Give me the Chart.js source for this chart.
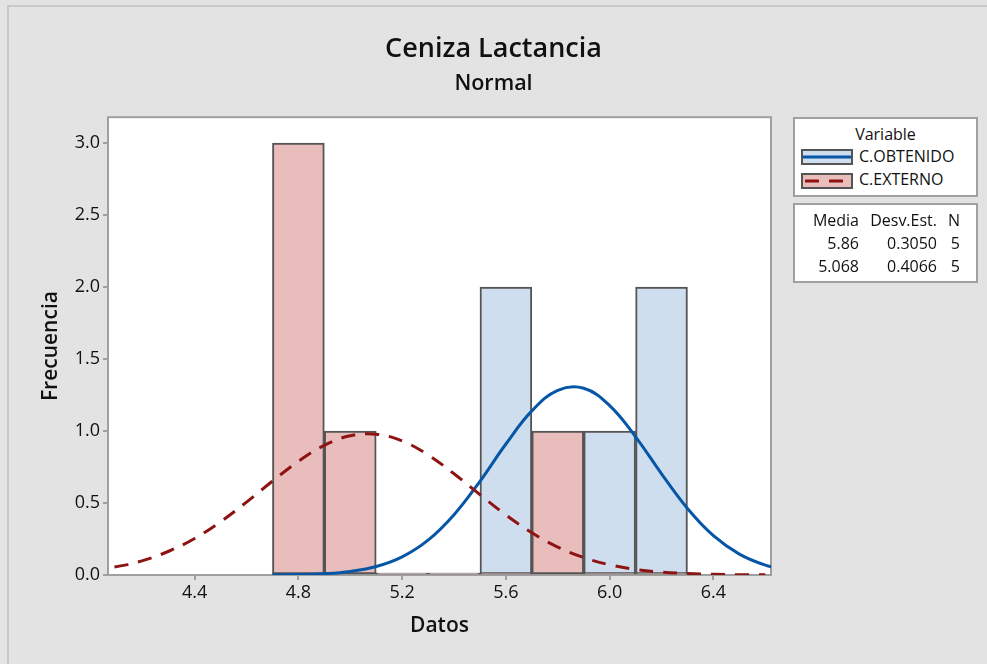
<!DOCTYPE html>
<html>
<head>
<meta charset="utf-8">
<script src="https://cdn.jsdelivr.net/npm/chart.js@4.4.1/dist/chart.umd.min.js"></script>
<style>
  body { margin: 0; background: #e3e3e3; font-family: "Open Sans", sans-serif; }
  #wrap { position: relative; width: 987px; height: 664px; background: #e3e3e3; overflow: hidden; }
  #frame { position: absolute; left: 7px; top: 5px; width: 1000px; height: 700px; border-left: 2px solid #c9c9c9; border-top: 2px solid #c9c9c9; }
  #box { position: absolute; left: 0; top: 0; width: 987px; height: 664px; }
  .lg { position: absolute; background: #fff; border: 2px solid #a0a0a0; box-sizing: border-box; color: #111; font-size: 16px; }
  .lg span { position: absolute; white-space: nowrap; line-height: 20px; }
  .sw { position: absolute; left: 6px; width: 52px; height: 16px; border: 2px solid #555; box-sizing: border-box; }
</style>
</head>
<body>
<div id="wrap">
  <div id="frame"></div>
  <div id="box"><canvas id="hist"></canvas></div>
  <div class="lg" id="legend" style="left:793px; top:117px; width:185px; height:80px;"></div>
  <div class="lg" id="stats" style="left:793px; top:203px; width:185px; height:80px;"></div>
</div>
<script>
// datos del histograma (centros de clase, ancho 0.2)
const binCenters = [4.8, 5.0, 5.2, 5.4, 5.6, 5.8, 6.0, 6.2];
const obtenidoCounts = [0, 0, 0, 0, 2, 0, 1, 2];
const externoCounts = [3, 1, 0, 0, 0, 1, 0, 0];

// curvas normales ajustadas (null = no se dibuja)
const curveX = [4.0, 4.1, 4.2, 4.3, 4.4, 4.5, 4.6, 4.7, 4.8, 4.9, 5.0, 5.1, 5.2, 5.3, 5.4,
  5.5, 5.6, 5.7, 5.8, 5.9, 6.0, 6.1, 6.2, 6.3, 6.4, 6.5, 6.6, 6.7];
const obtenidoCurve = [null, null, null, null, null, null, null, 0.001, 0.003, 0.009, 0.025, 0.059, 0.126, 0.242, 0.419,
  0.651, 0.910, 1.140, 1.283, 1.297, 1.177, 0.960, 0.703, 0.462, 0.273, 0.145, 0.069, 0.029];
const externoCurve = [0.031, 0.058, 0.100, 0.165, 0.254, 0.370, 0.506, 0.652, 0.790, 0.901, 0.967, 0.978, 0.931, 0.834, 0.703,
  0.558, 0.417, 0.293, 0.194, 0.121, 0.071, 0.039, 0.020, 0.010, 0.005, 0.002, 0.001, null];

const xTicks = [4.4, 4.8, 5.2, 5.6, 6.0, 6.4];
const yTicks = [0, 0.5, 1.0, 1.5, 2.0, 2.5, 3.0];

const seriesNames = ["C.OBTENIDO", "C.EXTERNO"];
const statsHeader = ["Media", "Desv.Est.", "N"];
const statsRows = [["5.86", "0.3050", "5"], ["5.068", "0.4066", "5"]];

const blueFill = "#cfdeee", redFill = "#eabdbd";
const blueLine = "#0656a8", redLine = "#8e1414";

// fondo blanco + marco del area de trazado
const plotFrame = {
  id: "plotFrame",
  beforeDatasetsDraw(chart) {
    const { ctx, chartArea: a } = chart;
    ctx.save();
    ctx.fillStyle = "#fff";
    ctx.fillRect(a.left, a.top, a.right - a.left, a.bottom - a.top);
    ctx.strokeStyle = "#a0a0a0";
    ctx.lineWidth = 2;
    ctx.strokeRect(a.left, a.top, a.right - a.left, a.bottom - a.top);
    ctx.restore();
  }
};

const pts = (xs, ys) => xs.map((x, i) => ({ x: x, y: ys[i] }));

const tickFont = { family: "Open Sans", size: 18 };
const gridOpts = { offset: false, drawOnChartArea: false, drawTicks: true, tickLength: 5, color: "#a0a0a0", lineWidth: 2 };
const axisTitleFont = { family: "Open Sans", size: 21, weight: "600" };

new Chart(document.getElementById("hist"), {
  type: "bar",
  data: {
    datasets: [
      {
        type: "line", label: seriesNames[1], data: pts(curveX, externoCurve),
        borderColor: redLine, borderWidth: 3, borderDash: [14, 10], pointRadius: 0,
        tension: 0.4, clip: 0, order: 0
      },
      {
        type: "line", label: seriesNames[0], data: pts(curveX, obtenidoCurve),
        borderColor: blueLine, borderWidth: 3, pointRadius: 0,
        tension: 0.4, clip: 0, order: 1
      },
      {
        label: seriesNames[1], data: pts(binCenters, externoCounts),
        backgroundColor: redFill, borderColor: "#555", borderWidth: 2, borderSkipped: false,
        minBarLength: 2, grouped: false, barPercentage: 1, categoryPercentage: 1, order: 2
      },
      {
        label: seriesNames[0], data: pts(binCenters, obtenidoCounts),
        backgroundColor: blueFill, borderColor: "#555", borderWidth: 2, borderSkipped: false,
        minBarLength: 2, grouped: false, barPercentage: 1, categoryPercentage: 1, order: 3
      }
    ]
  },
  options: {
    responsive: true,
    maintainAspectRatio: false,
    animation: false,
    layout: { padding: 0 },
    plugins: {
      legend: { display: false },
      tooltip: { enabled: false },
      title: {
        display: true, text: "Ceniza Lactancia", color: "#111",
        font: { family: "Open Sans", size: 27, weight: "600" },
        padding: { top: 33, bottom: 0 }
      },
      subtitle: {
        display: true, text: "Normal", color: "#111",
        font: { family: "Open Sans", size: 21.5, weight: "600" },
        padding: { top: 6, bottom: 20 }
      }
    },
    scales: {
      x: {
        type: "linear", min: 4.066, max: 6.622, offset: false,
        grid: gridOpts,
        border: { display: false },
        ticks: { font: tickFont, color: "#111", padding: 2, callback: v => v.toFixed(1) },
        afterBuildTicks: s => { s.ticks = xTicks.map(v => ({ value: v })); },
        afterFit: s => { s.height = 89; },
        title: { display: true, text: "Datos", color: "#111", font: axisTitleFont, padding: { top: 0, bottom: 25 } }
      },
      y: {
        min: 0, max: 3.18,
        grid: gridOpts,
        border: { display: false },
        ticks: { font: tickFont, color: "#111", padding: 3, callback: v => v.toFixed(1) },
        afterBuildTicks: s => { s.ticks = yTicks.map(v => ({ value: v })); },
        afterFit: s => { s.width = 108; },
        title: { display: true, text: "Frecuencia", color: "#111", font: axisTitleFont, padding: { top: 38, bottom: 0 } }
      },
      // espacio a la derecha para la leyenda
      yRight: {
        position: "right", display: true,
        grid: { display: false }, border: { display: false },
        ticks: { display: false },
        afterFit: s => { s.width = 216; }
      }
    }
  },
  plugins: [plotFrame]
});

// leyenda (Variable) y tabla de estadisticos
const legend = document.getElementById("legend");
legend.innerHTML =
  '<span style="left:0; width:181px; text-align:center; top:5px;">Variable</span>' +
  '<div class="sw" style="top:30px; background:' + blueFill + ';"><svg width="48" height="12" style="position:absolute;left:0;top:0">' +
  '<line x1="0" y1="6" x2="48" y2="6" stroke="' + blueLine + '" stroke-width="3"/></svg></div>' +
  '<span style="left:64px; top:27px;">' + seriesNames[0] + '</span>' +
  '<div class="sw" style="top:54px; background:' + redFill + ';"><svg width="48" height="12" style="position:absolute;left:0;top:0">' +
  '<line x1="2" y1="6" x2="48" y2="6" stroke="' + redLine + '" stroke-width="3" stroke-dasharray="14 10"/></svg></div>' +
  '<span style="left:64px; top:50px;">' + seriesNames[1] + '</span>';

const stats = document.getElementById("stats");
const colRight = [64, 142, 165];
let html = "";
[statsHeader].concat(statsRows).forEach((row, r) => {
  row.forEach((txt, c) => {
    html += '<span style="right:' + (181 - colRight[c]) + 'px; top:' + (5 + r * 23) + 'px;">' + txt + '</span>';
  });
});
stats.innerHTML = html;
</script>
</body>
</html>
